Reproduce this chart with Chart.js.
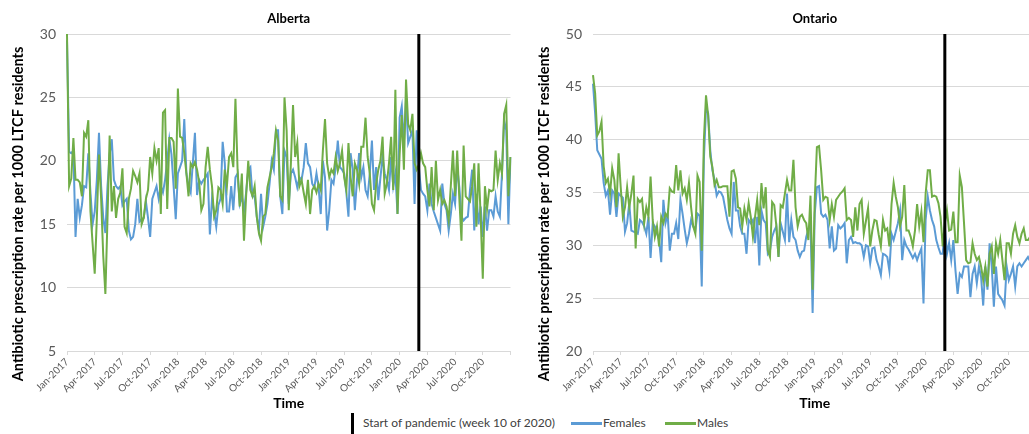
<!DOCTYPE html>
<html>
<head>
<meta charset="utf-8">
<script src="https://cdn.jsdelivr.net/npm/chart.js@4.4.1/dist/chart.umd.min.js"></script>
<style>
  html, body { margin: 0; padding: 0; background: #fff; overflow: hidden; width: 1029px; height: 434px; }
  .panel { position: absolute; top: 0; width: 520px; height: 412px; }
  .leg { position: absolute; font-family: Lato, 'Open Sans', sans-serif; font-size: 12px; color: #404040; top: 415px; line-height: 16px; white-space: nowrap; }
  .mark { position: absolute; }
</style>
</head>
<body>
<div class="panel" style="left:0"><canvas id="alberta" width="520" height="412"></canvas></div>
<div class="panel" style="left:526px"><canvas id="ontario" width="520" height="412"></canvas></div>

<div class="mark" style="left:351px; top:413px; width:3px; height:21px; background:#000"></div>
<div class="leg" style="left:363px">Start of pandemic (week 10 of 2020)</div>
<div class="mark" style="left:571px; top:422px; width:31px; height:3px; background:#5b9bd5"></div>
<div class="leg" style="left:603px">Females</div>
<div class="mark" style="left:665px; top:422px; width:31px; height:3px; background:#70ad47"></div>
<div class="leg" style="left:697px">Males</div>

<script>
// weekly categories, 2017-W1 .. 2020-W53
const weekLabels = [];
for (const yr of [2017, 2018, 2019, 2020]) {
    const n = yr === 2020 ? 53 : 52;
    for (let w = 1; w <= n; w++) weekLabels.push(yr + '-W' + w);
}
const pandemicWeek = '2020-W10';

// one label every 13 weeks
const quarterLabels = [
    'Jan-2017', 'Apr-2017', 'Jul-2017', 'Oct-2017',
    'Jan-2018', 'Apr-2018', 'Jul-2018', 'Oct-2018',
    'Jan-2019', 'Apr-2019', 'Jul-2019', 'Oct-2019',
    'Jan-2020', 'Apr-2020', 'Jul-2020', 'Oct-2020'
];

const yTitle = 'Antibiotic prescription rate per 1000 LTCF residents';

// Alberta
const albertaFemales = [
    29.5, 20.7, 20.6, 20.8, 14.0, 17.0, 15.5, 16.5, 18.0, 17.9, 20.6, 17.5, 15.0,
    16.0, 18.5, 22.2, 18.0, 15.5, 14.3, 18.0, 20.5, 21.7, 18.5, 18.0, 17.8, 18.0,
    16.5, 16.8, 17.0, 14.5, 13.8, 14.0, 15.0, 17.0, 15.2, 15.4, 15.5, 16.8, 15.5,
    14.0, 17.0, 17.5, 18.0, 17.0, 18.0, 17.5, 18.5, 20.0, 21.7, 20.5, 18.0, 15.4,
    19.0, 19.5, 20.0, 23.3, 19.0, 18.0, 17.5, 19.8, 22.2, 17.3, 18.5, 18.2, 18.5,
    18.7, 19.0, 14.2, 17.0, 16.0, 14.8, 16.5, 17.0, 21.5, 19.8, 16.0, 16.0, 18.0,
    16.1, 18.7, 19.0, 16.6, 17.2, 16.0, 17.5, 19.3, 19.5, 17.2, 17.2, 15.6, 14.5,
    17.4, 14.8, 15.6, 16.6, 18.2, 20.0, 19.3, 22.4, 22.4, 17.2, 15.8, 20.8, 20.3,
    16.6, 19.0, 19.3, 18.7, 17.9, 18.7, 18.5, 19.5, 21.4, 19.8, 19.5, 18.2, 17.9,
    19.0, 17.9, 15.8, 20.0, 18.7, 14.5, 16.1, 18.5, 18.2, 19.5, 21.6, 19.5, 19.3,
    19.0, 17.5, 15.6, 20.6, 19.3, 16.1, 18.5, 20.6, 18.7, 19.5, 17.7, 17.2, 19.0,
    21.6, 17.7, 19.5, 16.9, 18.7, 20.3, 19.0, 18.5, 17.7, 20.3, 18.0, 19.0, 15.8,
    23.4, 24.3, 21.4, 24.8, 21.4, 21.9, 22.4, 16.6, 22.4, 19.5, 17.7, 17.4, 17.2,
    16.1, 18.2, 16.6, 16.0, 15.5, 15.0, 14.5, 18.2, 16.6, 16.1, 14.5, 15.8, 17.4,
    16.6, 19.5, 17.9, 15.6, 15.3, 15.5, 15.6, 17.7, 19.3, 14.5, 17.4, 15.0, 16.4,
    14.0, 16.4, 14.5, 16.1, 16.1, 15.6, 17.2, 16.0, 15.6, 19.0, 23.2, 22.4, 15.0,
    20.3
];
const albertaMales = [
    30.0, 18.0, 18.6, 21.8, 18.5, 18.5, 18.3, 17.2, 22.2, 21.9, 23.2, 16.0, 13.5,
    11.1, 15.5, 20.5, 17.0, 12.5, 9.5, 15.5, 22.0, 16.0, 18.0, 15.5, 17.0, 17.5,
    19.4, 14.8, 14.3, 17.0, 17.8, 19.2, 18.8, 18.3, 19.0, 15.0, 15.5, 17.0, 17.7,
    20.3, 19.0, 21.0, 20.0, 21.0, 15.8, 23.8, 24.0, 16.2, 21.8, 21.8, 21.5, 17.8,
    25.7, 21.9, 21.8, 20.6, 19.0, 17.2, 19.8, 19.5, 19.9, 19.3, 18.3, 16.1, 16.6,
    19.5, 21.1, 19.3, 18.0, 15.6, 16.1, 17.9, 17.7, 16.6, 19.3, 18.0, 20.3, 20.6,
    19.5, 24.9, 19.3, 16.4, 19.0, 13.7, 17.2, 20.0, 17.7, 17.2, 18.0, 15.6, 14.3,
    13.7, 15.6, 15.8, 17.9, 18.7, 19.5, 20.6, 22.4, 21.6, 17.2, 16.9, 25.0, 22.4,
    16.1, 19.8, 24.4, 20.3, 21.4, 18.0, 18.5, 17.5, 16.6, 18.5, 15.8, 17.7, 18.0,
    17.5, 18.2, 17.7, 20.8, 23.3, 19.8, 18.7, 19.3, 19.0, 20.3, 19.2, 19.8, 20.8,
    18.7, 17.7, 21.4, 18.7, 17.2, 19.8, 19.3, 18.2, 21.1, 21.1, 23.4, 20.3, 19.0,
    16.6, 16.1, 18.2, 19.3, 20.0, 21.9, 17.4, 18.2, 19.8, 21.9, 17.7, 25.6, 15.8,
    20.5, 23.6, 19.3, 26.4, 22.9, 22.4, 23.7, 19.8, 19.3, 19.7, 20.6, 19.8, 19.5,
    17.7, 16.4, 19.5, 16.1, 20.0, 16.9, 17.7, 16.6, 16.9, 16.4, 15.3, 18.0, 20.8,
    17.2, 20.8, 17.0, 13.7, 21.2, 17.2, 17.0, 16.8, 18.0, 19.8, 14.8, 19.8, 15.6,
    10.7, 18.0, 16.2, 17.7, 17.6, 17.7, 20.8, 18.5, 19.8, 19.0, 23.7, 24.4, 17.2,
    20.3
];

// Ontario
const ontarioFemales = [
    45.3, 42.5, 39.0, 38.6, 38.2, 35.9, 34.7, 35.2, 32.9, 35.2, 34.9, 32.7, 34.9,
    34.7, 34.5, 31.3, 32.1, 34.0, 31.4, 31.3, 31.2, 31.1, 32.4, 32.2, 31.8, 31.1,
    32.7, 28.8, 32.1, 31.8, 31.1, 30.5, 28.4, 34.3, 32.1, 33.0, 29.5, 31.1, 31.1,
    32.1, 30.6, 34.3, 33.0, 31.5, 30.2, 31.1, 32.4, 31.8, 31.4, 33.0, 32.8, 26.1,
    38.1, 43.0, 42.5, 39.0, 37.1, 36.2, 34.7, 35.1, 35.0, 34.6, 33.5, 32.4, 31.6,
    31.1, 36.0, 33.3, 33.3, 31.8, 31.1, 31.1, 29.2, 32.4, 32.1, 32.4, 30.2, 32.7,
    28.1, 33.3, 32.4, 32.1, 29.2, 29.5, 30.8, 31.4, 31.8, 28.9, 32.1, 31.3, 30.5,
    34.9, 30.3, 32.4, 30.8, 30.5, 29.5, 28.9, 29.4, 29.5, 30.8, 31.5, 32.0, 23.6,
    33.0, 35.5, 35.6, 33.0, 32.7, 32.9, 32.4, 29.7, 31.8, 29.5, 29.7, 31.9, 31.6,
    31.8, 32.1, 28.3, 30.5, 30.8, 30.2, 30.3, 30.2, 30.2, 30.0, 28.9, 30.0, 29.9,
    28.3, 29.7, 29.8, 28.6, 28.0, 27.2, 29.2, 29.1, 28.9, 27.6, 31.1, 30.5, 31.3,
    32.1, 33.3, 28.6, 30.5, 29.9, 29.6, 29.2, 28.8, 29.2, 28.6, 29.2, 29.7, 24.5,
    32.4, 34.6, 33.3, 32.4, 31.8, 30.5, 29.8, 29.2, 29.2, 31.8, 29.2, 30.2, 28.6,
    30.5, 27.6, 25.4, 27.3, 27.0, 28.0, 28.0, 28.0, 25.1, 27.3, 28.0, 26.4, 28.0,
    27.0, 24.3, 28.0, 25.8, 30.2, 28.0, 24.2, 28.0, 25.4, 25.1, 24.8, 24.3, 28.0,
    26.7, 27.3, 28.0, 26.1, 28.0, 28.3, 28.0, 28.3, 28.6, 28.9, 28.5, 28.0, 28.8,
    29.2
];
const ontarioMales = [
    46.1, 44.4, 40.4, 40.8, 41.7, 37.5, 35.9, 36.3, 34.9, 37.3, 36.2, 33.6, 38.7,
    35.5, 32.7, 33.6, 35.5, 33.6, 34.9, 36.6, 29.7, 34.4, 34.1, 34.4, 32.1, 33.6,
    32.7, 36.5, 32.4, 30.8, 31.8, 29.9, 32.7, 32.1, 33.0, 32.7, 35.4, 35.1, 35.0,
    37.6, 35.2, 37.1, 34.9, 35.4, 34.3, 35.9, 33.6, 31.8, 31.1, 36.6, 36.0, 29.5,
    40.0, 44.2, 42.3, 38.4, 37.4, 35.7, 36.2, 35.5, 35.5, 35.6, 35.6, 35.6, 32.7,
    37.0, 37.1, 36.3, 33.6, 33.5, 31.8, 33.5, 32.4, 34.0, 32.7, 30.8, 32.7, 34.3,
    31.9, 35.9, 33.5, 35.5, 29.5, 28.9, 34.1, 33.8, 31.8, 28.9, 33.8, 33.6, 34.9,
    36.2, 35.2, 35.2, 38.1, 33.6, 31.8, 32.7, 32.9, 32.4, 32.1, 30.5, 34.7, 25.8,
    34.3, 39.3, 39.4, 37.1, 34.3, 34.6, 34.5, 32.4, 33.9, 32.7, 34.3, 34.6, 34.9,
    35.1, 35.4, 32.4, 32.6, 32.4, 30.8, 33.6, 31.4, 33.9, 34.3, 31.1, 32.3, 33.5,
    29.9, 31.4, 32.4, 32.3, 31.0, 29.9, 32.4, 31.4, 31.6, 29.9, 33.9, 35.9, 34.6,
    33.6, 31.8, 32.7, 35.7, 31.4, 31.4, 30.8, 29.9, 31.4, 33.9, 31.8, 33.2, 30.3,
    34.9, 37.1, 37.1, 34.6, 34.7, 34.6, 34.0, 32.7, 29.9, 32.1, 33.3, 31.4, 31.5,
    33.2, 30.3, 30.3, 36.6, 35.5, 32.1, 28.6, 28.3, 28.4, 30.2, 29.2, 28.6, 28.9,
    28.0, 26.7, 28.0, 26.1, 29.2, 29.9, 27.3, 30.2, 29.2, 30.5, 28.6, 26.7, 30.2,
    30.2, 29.2, 31.1, 31.9, 30.8, 30.2, 31.1, 31.6, 30.5, 30.5, 30.8, 31.5, 31.8,
    31.2
];

const FONT = "Lato, 'Open Sans', sans-serif";
Chart.defaults.font.family = FONT;

// pandemic marker line, panel title and rotated y title
const panelDecor = {
    id: 'panelDecor',
    afterDatasetsDraw(chart, args, opts) {
        const { ctx, chartArea, scales } = chart;
        const x = scales.x.getPixelForValue(weekLabels.indexOf(pandemicWeek));
        ctx.save();
        ctx.strokeStyle = '#000';
        ctx.lineWidth = 3;
        ctx.beginPath();
        ctx.moveTo(x, chartArea.top);
        ctx.lineTo(x, chartArea.bottom);
        ctx.stroke();

        ctx.fillStyle = '#000';
        ctx.textAlign = 'center';
        ctx.textBaseline = 'middle';
        ctx.font = 'bold 13px ' + FONT;
        ctx.fillText(opts.title, (chartArea.left + chartArea.right) / 2, 19);

        // y title sits a little below the plot centre in the original
        ctx.translate(18, 214);
        ctx.rotate(-Math.PI / 2);
        ctx.font = 'bold 14.5px ' + FONT;
        ctx.fillText(yTitle, 0, 0);
        ctx.restore();
    }
};

function makeChart(id, title, females, males, yMin, yMax) {
    const ctx = document.getElementById(id).getContext('2d');
    return new Chart(ctx, {
        type: 'line',
        data: {
            labels: weekLabels,
            datasets: [
                { label: 'Females', data: females, borderColor: '#5b9bd5', borderWidth: 2, pointRadius: 0, tension: 0, order: 2 },
                { label: 'Males', data: males, borderColor: '#70ad47', borderWidth: 2, pointRadius: 0, tension: 0, order: 1 }
            ]
        },
        options: {
            responsive: false,
            animation: false,
            events: [],
            layout: { padding: { top: 34, right: 9, left: 0, bottom: 0 } },
            plugins: {
                legend: { display: false },
                tooltip: { enabled: false },
                panelDecor: { title: title }
            },
            scales: {
                x: {
                    offset: false,
                    border: { display: false },
                    grid: {
                        drawOnChartArea: false,
                        drawTicks: true,
                        tickLength: 4,
                        color: c => (c.index % 13 === 0 ? '#d9d9d9' : 'rgba(0,0,0,0)')
                    },
                    ticks: {
                        autoSkip: false,
                        maxRotation: 45,
                        minRotation: 45,
                        padding: 1,
                        color: '#595959',
                        font: { size: 10 },
                        callback: (v, i) => (i % 13 === 0 ? (quarterLabels[i / 13] || '') : '')
                    },
                    title: {
                        display: true,
                        text: 'Time',
                        color: '#000',
                        font: { size: 14, weight: 'bold' },
                        padding: { top: 2, bottom: 0 }
                    },
                    afterFit: s => { s.height = 61; }
                },
                y: {
                    min: yMin,
                    max: yMax,
                    border: { display: false },
                    grid: { color: '#d9d9d9', drawTicks: false },
                    ticks: { stepSize: 5, padding: 11, color: '#595959', font: { size: 14 } },
                    afterFit: s => { s.width = 67; }
                }
            }
        },
        plugins: [panelDecor]
    });
}

makeChart('alberta', 'Alberta', albertaFemales, albertaMales, 5, 30);
makeChart('ontario', 'Ontario', ontarioFemales, ontarioMales, 20, 50);
</script>
</body>
</html>
